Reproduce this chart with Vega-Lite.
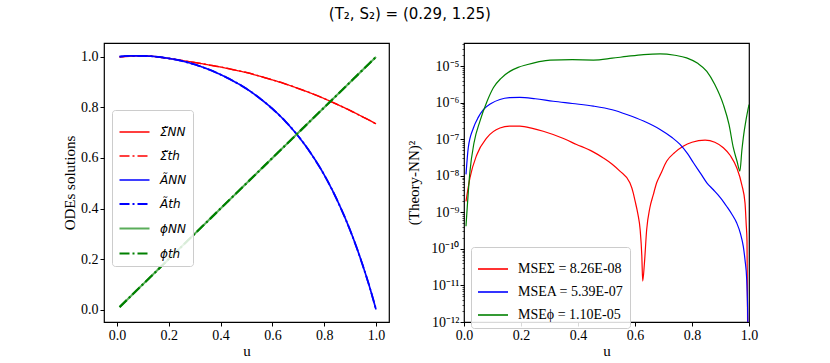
{
  "$schema": "https://vega.github.io/schema/vega-lite/v6.json",
  "padding": {"left": 61, "top": 6, "right": 5, "bottom": 5},
  "background": "white",
  "title": {"text": "(T₂, S₂) = (0.29, 1.25)", "font": "DejaVu Sans", "fontSize": 15, "fontWeight": "normal", "color": "#000", "anchor": "middle", "offset": 15},
  "config": {
    "view": {"stroke": "#000", "strokeWidth": 1.2},
    "axis": {"grid": false, "domain": false, "ticks": true, "tickColor": "#000", "tickSize": 4, "tickWidth": 1, "labelFont": "Liberation Serif", "labelFontSize": 14, "labelColor": "#000", "labelPadding": 2, "labelFlush": false, "titleFont": "Liberation Serif", "titleFontSize": 15, "titleFontWeight": "normal", "titleColor": "#000"},
    "legend": {"symbolType": "stroke", "symbolSize": 900, "labelColor": "#000", "padding": 6, "fillColor": "rgba(255,255,255,0.85)", "strokeColor": "#cccccc", "cornerRadius": 3, "labelOffset": 9, "title": null}
  },
  "resolve": {
    "scale": {"color": "independent", "strokeDash": "independent", "strokeWidth": "independent"},
    "legend": {"color": "independent", "strokeDash": "independent", "strokeWidth": "independent"}
  },
  "spacing": 15,
  "datasets": {
    "left": [
      {"u": 0.01, "S_NN": 1.000, "S_th": 1.000, "A_NN": 1.001, "A_th": 1.001, "phi_NN": 0.01, "phi_th": 0.01},
      {"u": 0.05, "S_NN": 1.003, "S_th": 1.003, "A_NN": 1.004, "A_th": 1.004, "phi_NN": 0.05, "phi_th": 0.05},
      {"u": 0.10, "S_NN": 1.004, "S_th": 1.004, "A_NN": 1.004, "A_th": 1.004, "phi_NN": 0.10, "phi_th": 0.10},
      {"u": 0.15, "S_NN": 1.001, "S_th": 1.001, "A_NN": 1.001, "A_th": 1.001, "phi_NN": 0.15, "phi_th": 0.15},
      {"u": 0.20, "S_NN": 0.994, "S_th": 0.994, "A_NN": 0.994, "A_th": 0.994, "phi_NN": 0.20, "phi_th": 0.20},
      {"u": 0.25, "S_NN": 0.986, "S_th": 0.986, "A_NN": 0.984, "A_th": 0.984, "phi_NN": 0.25, "phi_th": 0.25},
      {"u": 0.30, "S_NN": 0.978, "S_th": 0.978, "A_NN": 0.970, "A_th": 0.970, "phi_NN": 0.30, "phi_th": 0.30},
      {"u": 0.35, "S_NN": 0.969, "S_th": 0.969, "A_NN": 0.952, "A_th": 0.952, "phi_NN": 0.35, "phi_th": 0.35},
      {"u": 0.40, "S_NN": 0.960, "S_th": 0.960, "A_NN": 0.930, "A_th": 0.930, "phi_NN": 0.40, "phi_th": 0.40},
      {"u": 0.45, "S_NN": 0.949, "S_th": 0.949, "A_NN": 0.904, "A_th": 0.904, "phi_NN": 0.45, "phi_th": 0.45},
      {"u": 0.50, "S_NN": 0.938, "S_th": 0.938, "A_NN": 0.874, "A_th": 0.874, "phi_NN": 0.50, "phi_th": 0.50},
      {"u": 0.55, "S_NN": 0.924, "S_th": 0.924, "A_NN": 0.837, "A_th": 0.837, "phi_NN": 0.55, "phi_th": 0.55},
      {"u": 0.60, "S_NN": 0.909, "S_th": 0.909, "A_NN": 0.795, "A_th": 0.795, "phi_NN": 0.60, "phi_th": 0.60},
      {"u": 0.65, "S_NN": 0.893, "S_th": 0.893, "A_NN": 0.745, "A_th": 0.745, "phi_NN": 0.65, "phi_th": 0.65},
      {"u": 0.70, "S_NN": 0.875, "S_th": 0.875, "A_NN": 0.686, "A_th": 0.686, "phi_NN": 0.70, "phi_th": 0.70},
      {"u": 0.75, "S_NN": 0.856, "S_th": 0.856, "A_NN": 0.616, "A_th": 0.616, "phi_NN": 0.75, "phi_th": 0.75},
      {"u": 0.80, "S_NN": 0.835, "S_th": 0.835, "A_NN": 0.533, "A_th": 0.533, "phi_NN": 0.80, "phi_th": 0.80},
      {"u": 0.85, "S_NN": 0.812, "S_th": 0.812, "A_NN": 0.433, "A_th": 0.433, "phi_NN": 0.85, "phi_th": 0.85},
      {"u": 0.90, "S_NN": 0.788, "S_th": 0.788, "A_NN": 0.314, "A_th": 0.314, "phi_NN": 0.90, "phi_th": 0.90},
      {"u": 0.925, "S_NN": 0.775, "S_th": 0.775, "A_NN": 0.246, "A_th": 0.246, "phi_NN": 0.925, "phi_th": 0.925},
      {"u": 0.95, "S_NN": 0.762, "S_th": 0.762, "A_NN": 0.171, "A_th": 0.171, "phi_NN": 0.95, "phi_th": 0.95},
      {"u": 0.975, "S_NN": 0.749, "S_th": 0.749, "A_NN": 0.090, "A_th": 0.090, "phi_NN": 0.975, "phi_th": 0.975},
      {"u": 1.00, "S_NN": 0.735, "S_th": 0.735, "A_NN": 0.000, "A_th": 0.000, "phi_NN": 1.00, "phi_th": 1.00}
    ],
    "right": [
      {"u": 0.007, "e": 2.00e-9, "s": "S"},
      {"u": 0.021, "e": 8.91e-9, "s": "S"},
      {"u": 0.045, "e": 3.80e-8, "s": "S"},
      {"u": 0.08, "e": 1.10e-7, "s": "S"},
      {"u": 0.126, "e": 2.04e-7, "s": "S"},
      {"u": 0.16, "e": 2.29e-7, "s": "S"},
      {"u": 0.196, "e": 2.29e-7, "s": "S"},
      {"u": 0.24, "e": 2.00e-7, "s": "S"},
      {"u": 0.278, "e": 1.66e-7, "s": "S"},
      {"u": 0.34, "e": 1.12e-7, "s": "S"},
      {"u": 0.395, "e": 7.24e-8, "s": "S"},
      {"u": 0.45, "e": 4.68e-8, "s": "S"},
      {"u": 0.489, "e": 3.09e-8, "s": "S"},
      {"u": 0.52, "e": 2.09e-8, "s": "S"},
      {"u": 0.547, "e": 1.35e-8, "s": "S"},
      {"u": 0.582, "e": 6.46e-9, "s": "S"},
      {"u": 0.594, "e": 3.39e-9, "s": "S"},
      {"u": 0.60, "e": 2.09e-9, "s": "S"},
      {"u": 0.61, "e": 9.1e-10, "s": "S"},
      {"u": 0.618, "e": 3.39e-10, "s": "S"},
      {"u": 0.624, "e": 6.3e-11, "s": "S"},
      {"u": 0.627, "e": 1.32e-11, "s": "S"},
      {"u": 0.633, "e": 4.0e-11, "s": "S"},
      {"u": 0.641, "e": 3.39e-10, "s": "S"},
      {"u": 0.652, "e": 1.32e-9, "s": "S"},
      {"u": 0.664, "e": 3.0e-9, "s": "S"},
      {"u": 0.676, "e": 6.46e-9, "s": "S"},
      {"u": 0.69, "e": 1.12e-8, "s": "S"},
      {"u": 0.711, "e": 2.51e-8, "s": "S"},
      {"u": 0.74, "e": 4.4e-8, "s": "S"},
      {"u": 0.769, "e": 6.46e-8, "s": "S"},
      {"u": 0.80, "e": 8.32e-8, "s": "S"},
      {"u": 0.846, "e": 9.55e-8, "s": "S"},
      {"u": 0.88, "e": 8.32e-8, "s": "S"},
      {"u": 0.91, "e": 5.89e-8, "s": "S"},
      {"u": 0.935, "e": 3.55e-8, "s": "S"},
      {"u": 0.957, "e": 1.66e-8, "s": "S"},
      {"u": 0.975, "e": 5.62e-9, "s": "S"},
      {"u": 0.986, "e": 1.82e-9, "s": "S"},
      {"u": 0.99, "e": 5.01e-10, "s": "S"},
      {"u": 0.993, "e": 1.58e-10, "s": "S"},
      {"u": 0.996, "e": 1e-13, "s": "S"},
      {"u": 0.007, "e": 1.10e-8, "s": "A"},
      {"u": 0.015, "e": 5.89e-8, "s": "A"},
      {"u": 0.033, "e": 2.04e-7, "s": "A"},
      {"u": 0.05, "e": 3.98e-7, "s": "A"},
      {"u": 0.068, "e": 6.46e-7, "s": "A"},
      {"u": 0.095, "e": 9.55e-7, "s": "A"},
      {"u": 0.126, "e": 1.23e-6, "s": "A"},
      {"u": 0.16, "e": 1.38e-6, "s": "A"},
      {"u": 0.196, "e": 1.41e-6, "s": "A"},
      {"u": 0.25, "e": 1.29e-6, "s": "A"},
      {"u": 0.313, "e": 1.10e-6, "s": "A"},
      {"u": 0.38, "e": 9.55e-7, "s": "A"},
      {"u": 0.454, "e": 8.13e-7, "s": "A"},
      {"u": 0.52, "e": 6.46e-7, "s": "A"},
      {"u": 0.571, "e": 4.79e-7, "s": "A"},
      {"u": 0.63, "e": 3.16e-7, "s": "A"},
      {"u": 0.688, "e": 1.86e-7, "s": "A"},
      {"u": 0.73, "e": 1.12e-7, "s": "A"},
      {"u": 0.758, "e": 7.24e-8, "s": "A"},
      {"u": 0.785, "e": 3.98e-8, "s": "A"},
      {"u": 0.805, "e": 2.29e-8, "s": "A"},
      {"u": 0.83, "e": 1.17e-8, "s": "A"},
      {"u": 0.852, "e": 6.46e-9, "s": "A"},
      {"u": 0.875, "e": 4.17e-9, "s": "A"},
      {"u": 0.90, "e": 2.51e-9, "s": "A"},
      {"u": 0.922, "e": 1.45e-9, "s": "A"},
      {"u": 0.94, "e": 8.91e-10, "s": "A"},
      {"u": 0.957, "e": 5.13e-10, "s": "A"},
      {"u": 0.97, "e": 2.63e-10, "s": "A"},
      {"u": 0.98, "e": 1.17e-10, "s": "A"},
      {"u": 0.986, "e": 5.01e-11, "s": "A"},
      {"u": 0.992, "e": 1.45e-11, "s": "A"},
      {"u": 0.995, "e": 2.51e-12, "s": "A"},
      {"u": 0.998, "e": 1e-13, "s": "A"},
      {"u": 0.007, "e": 4.17e-10, "s": "phi"},
      {"u": 0.021, "e": 1.35e-8, "s": "phi"},
      {"u": 0.035, "e": 7.94e-8, "s": "phi"},
      {"u": 0.056, "e": 3.16e-7, "s": "phi"},
      {"u": 0.08, "e": 1.05e-6, "s": "phi"},
      {"u": 0.103, "e": 2.57e-6, "s": "phi"},
      {"u": 0.13, "e": 4.68e-6, "s": "phi"},
      {"u": 0.161, "e": 7.24e-6, "s": "phi"},
      {"u": 0.19, "e": 9.33e-6, "s": "phi"},
      {"u": 0.22, "e": 1.10e-5, "s": "phi"},
      {"u": 0.26, "e": 1.32e-5, "s": "phi"},
      {"u": 0.302, "e": 1.48e-5, "s": "phi"},
      {"u": 0.38, "e": 1.51e-5, "s": "phi"},
      {"u": 0.454, "e": 1.48e-5, "s": "phi"},
      {"u": 0.52, "e": 1.66e-5, "s": "phi"},
      {"u": 0.571, "e": 1.86e-5, "s": "phi"},
      {"u": 0.63, "e": 2.09e-5, "s": "phi"},
      {"u": 0.688, "e": 2.19e-5, "s": "phi"},
      {"u": 0.74, "e": 2.00e-5, "s": "phi"},
      {"u": 0.781, "e": 1.70e-5, "s": "phi"},
      {"u": 0.82, "e": 1.20e-5, "s": "phi"},
      {"u": 0.852, "e": 7.24e-6, "s": "phi"},
      {"u": 0.88, "e": 3.16e-6, "s": "phi"},
      {"u": 0.91, "e": 8.91e-7, "s": "phi"},
      {"u": 0.93, "e": 2.51e-7, "s": "phi"},
      {"u": 0.945, "e": 5.89e-8, "s": "phi"},
      {"u": 0.958, "e": 2.51e-8, "s": "phi"},
      {"u": 0.968, "e": 1.35e-8, "s": "phi"},
      {"u": 0.975, "e": 5.01e-8, "s": "phi"},
      {"u": 0.98, "e": 1.10e-7, "s": "phi"},
      {"u": 0.99, "e": 3.55e-7, "s": "phi"},
      {"u": 1.0, "e": 8.91e-7, "s": "phi"}
    ]
  },
  "hconcat": [
    {
      "width": 285,
      "height": 279,
      "data": {"name": "left"},
      "transform": [{"fold": ["S_NN", "S_th", "A_NN", "A_th", "phi_NN", "phi_th"], "as": ["series", "v"]}],
      "mark": {"type": "line", "interpolate": "monotone"},
      "encoding": {
        "x": {"field": "u", "type": "quantitative", "scale": {"domain": [-0.05, 1.05], "nice": false, "zero": false},
              "axis": {"values": [0, 0.2, 0.4, 0.6, 0.8, 1.0], "format": ".1f", "title": "u", "titleBaseline": "alphabetic", "titleY": 33}},
        "y": {"field": "v", "type": "quantitative", "scale": {"domain": [-0.049, 1.055], "nice": false, "zero": false},
              "axis": {"values": [0, 0.2, 0.4, 0.6, 0.8, 1.0], "format": ".1f", "title": "ODEs solutions", "titleX": -35, "titleBaseline": "middle"}},
        "color": {"field": "series", "type": "nominal",
                  "scale": {"domain": ["S_NN", "S_th", "A_NN", "A_th", "phi_NN", "phi_th"], "range": ["#ff0000", "#ff0000", "#0000ff", "#0000ff", "#5aad5a", "#008000"]},
                  "legend": {"orient": "none", "legendX": 8, "legendY": 67, "labelFont": "DejaVu Sans", "labelFontStyle": "italic", "labelFontSize": 12,
                             "labelExpr": "datum.label == 'S_NN' ? 'Σ̃NN' : datum.label == 'S_th' ? 'Σ̃th' : datum.label == 'A_NN' ? 'ÃNN' : datum.label == 'A_th' ? 'Ãth' : datum.label == 'phi_NN' ? 'ϕNN' : 'ϕth'"}},
        "strokeDash": {"field": "series", "type": "nominal",
                       "scale": {"domain": ["S_NN", "S_th", "A_NN", "A_th", "phi_NN", "phi_th"], "range": [[1, 0], [10, 3, 2, 3], [1, 0], [10, 3, 2, 3], [1, 0], [10, 3, 2, 3]]},
                       "legend": {"orient": "none", "legendX": 8, "legendY": 67, "labelFont": "DejaVu Sans", "labelFontStyle": "italic", "labelFontSize": 12,
                             "labelExpr": "datum.label == 'S_NN' ? 'Σ̃NN' : datum.label == 'S_th' ? 'Σ̃th' : datum.label == 'A_NN' ? 'ÃNN' : datum.label == 'A_th' ? 'Ãth' : datum.label == 'phi_NN' ? 'ϕNN' : 'ϕth'"}},
        "strokeWidth": {"field": "series", "type": "nominal",
                        "scale": {"domain": ["S_NN", "S_th", "A_NN", "A_th", "phi_NN", "phi_th"], "range": [1.3, 2.2, 1.3, 2.2, 2, 2.2]},
                        "legend": {"orient": "none", "legendX": 8, "legendY": 67, "labelFont": "DejaVu Sans", "labelFontStyle": "italic", "labelFontSize": 12,
                             "labelExpr": "datum.label == 'S_NN' ? 'Σ̃NN' : datum.label == 'S_th' ? 'Σ̃th' : datum.label == 'A_NN' ? 'ÃNN' : datum.label == 'A_th' ? 'Ãth' : datum.label == 'phi_NN' ? 'ϕNN' : 'ϕth'"}}
      }
    },
    {
      "width": 285,
      "height": 279,
      "data": {"name": "right"},
      "mark": {"type": "line", "clip": true, "strokeWidth": 1.2, "interpolate": "monotone"},
      "encoding": {
        "x": {"field": "u", "type": "quantitative", "scale": {"domain": [0, 1], "nice": false, "zero": false},
              "axis": {"values": [0, 0.2, 0.4, 0.6, 0.8, 1.0], "format": ".1f", "title": "u", "titleBaseline": "alphabetic", "titleY": 33}},
        "y": {"field": "e", "type": "quantitative", "scale": {"type": "log", "domain": [1e-12, 4.33e-5], "nice": false},
              "axis": {"values": [1e-12, 2e-12, 3e-12, 4e-12, 5e-12, 6e-12, 7e-12, 8e-12, 9e-12,
                                  1e-11, 2e-11, 3e-11, 4e-11, 5e-11, 6e-11, 7e-11, 8e-11, 9e-11,
                                  1e-10, 2e-10, 3e-10, 4e-10, 5e-10, 6e-10, 7e-10, 8e-10, 9e-10,
                                  1e-9, 2e-9, 3e-9, 4e-9, 5e-9, 6e-9, 7e-9, 8e-9, 9e-9,
                                  1e-8, 2e-8, 3e-8, 4e-8, 5e-8, 6e-8, 7e-8, 8e-8, 9e-8,
                                  1e-7, 2e-7, 3e-7, 4e-7, 5e-7, 6e-7, 7e-7, 8e-7, 9e-7,
                                  1e-6, 2e-6, 3e-6, 4e-6, 5e-6, 6e-6, 7e-6, 8e-6, 9e-6,
                                  1e-5, 2e-5, 3e-5, 4e-5],
                       "labelOverlap": false,
                       "labelExpr": "abs(log(datum.value)/LN10 - round(log(datum.value)/LN10)) < 0.001 ? ['10⁻⁵','10⁻⁶','10⁻⁷','10⁻⁸','10⁻⁹','10⁻¹⁰','10⁻¹¹','10⁻¹²'][round(-log(datum.value)/LN10) - 5] : ''",
                       "tickSize": {"condition": {"test": "abs(log(datum.value)/LN10 - round(log(datum.value)/LN10)) < 0.001", "value": 4}, "value": 2},
                       "tickWidth": {"condition": {"test": "abs(log(datum.value)/LN10 - round(log(datum.value)/LN10)) < 0.001", "value": 1}, "value": 0.7},
                       "title": "(Theory-NN)²", "titleX": -51, "titleBaseline": "middle", "labelPadding": 1}},
        "color": {"field": "s", "type": "nominal",
                  "scale": {"domain": ["S", "A", "phi"], "range": ["#ff0000", "#0000ff", "#008000"]},
                  "legend": {"orient": "none", "legendX": 7, "legendY": 204, "labelFont": "Liberation Serif", "labelFontSize": 14, "symbolStrokeWidth": 1.6, "rowPadding": -1.5,
                             "labelExpr": "datum.label == 'S' ? 'MSEΣ = 8.26E-08' : datum.label == 'A' ? 'MSEA = 5.39E-07' : 'MSEϕ = 1.10E-05'"}}
      }
    }
  ]
}
